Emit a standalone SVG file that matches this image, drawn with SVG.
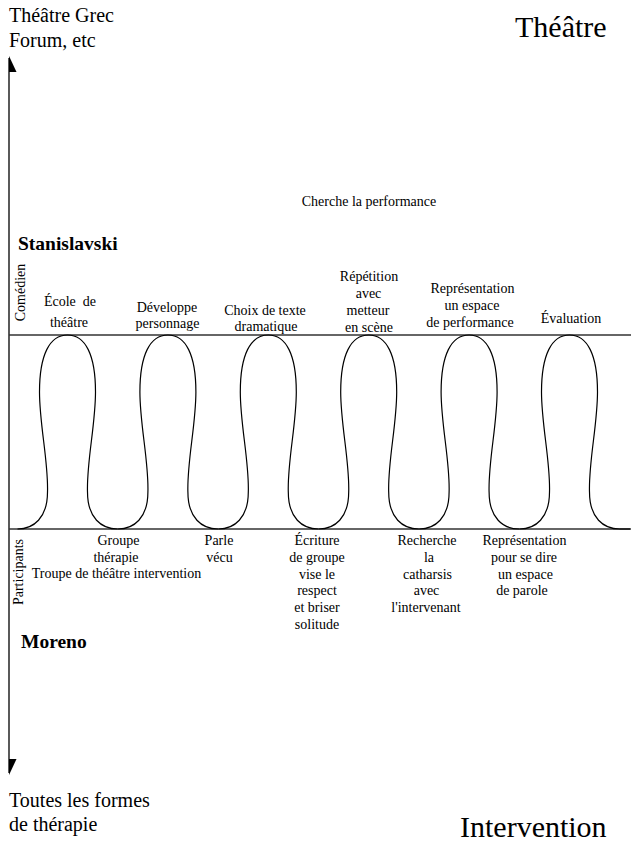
<svg xmlns="http://www.w3.org/2000/svg" xmlns:xlink="http://www.w3.org/1999/xlink" width="631" height="844" viewBox="0 0 631 844">
<style>
text{font-family:"Liberation Serif","Times New Roman",serif;fill:#000}
.lbl{font-size:14px;text-anchor:middle;white-space:pre}
.big{font-size:20px}
.huge{font-size:30px}
.bold{font-size:19.5px;font-weight:bold}
.axis{stroke:#000;stroke-width:1.3;fill:none}
.hline{stroke:#333;stroke-width:1.5;fill:none}
.loop{stroke:#000;stroke-width:1.2;fill:none}
</style>
<defs>
<path id="lobe" d="M-50,529 C-34,529 -20,518 -20,492 C-19,462 -28,425 -28,392 C-28,355 -18,335 0,335 C18,335 28,355 28,392 C28,425 19,462 20,492 C20,518 34,529 50.2,529"/>
</defs>
<g id="corner-texts">
<text class="big" x="9" y="22">Théâtre Grec</text>
<text class="big" x="9" y="47">Forum, etc</text>
<text class="huge" x="515" y="37">Théâtre</text>
<text class="big" x="9" y="807">Toutes les formes</text>
<text class="big" x="9" y="831">de thérapie</text>
<text class="huge" x="460" y="837">Intervention</text>
</g>
<g id="axis">
<line class="axis" x1="9" y1="58" x2="9" y2="773"/>
<polygon points="9,56 16.5,72 9,72" fill="#000"/>
<polygon points="9,759 16.5,759 9,775" fill="#000"/>
<line class="hline" x1="9" y1="335" x2="631" y2="335"/>
<line class="hline" x1="9" y1="529" x2="631" y2="529"/>
</g>
<g id="loops" class="loop">
<use xlink:href="#lobe" href="#lobe" transform="translate(67.5,0)"/>
<use xlink:href="#lobe" href="#lobe" transform="translate(167.9,0)"/>
<use xlink:href="#lobe" href="#lobe" transform="translate(268.3,0)"/>
<use xlink:href="#lobe" href="#lobe" transform="translate(368.7,0)"/>
<use xlink:href="#lobe" href="#lobe" transform="translate(469.1,0)"/>
<use xlink:href="#lobe" href="#lobe" transform="translate(569.5,0)"/>
<line x1="619.5" y1="529" x2="630" y2="529"/>
</g>
<g id="theatre-side">
<text class="lbl" x="369" y="206">Cherche la performance</text>
<text class="bold" x="18" y="250">Stanislavski</text>
<text class="lbl" transform="translate(25,292.5) rotate(-90)">Comédien</text>
</g>
<g id="n-ecole"><text class="lbl" x="70" y="306">École  de</text><text class="lbl" x="69" y="327">théâtre</text></g>
<g id="n-developpe"><text class="lbl" x="167" y="312">Développe</text><text class="lbl" x="167.5" y="328">personnage</text></g>
<g id="n-choix"><text class="lbl" x="265" y="315">Choix de texte</text><text class="lbl" x="266" y="331">dramatique</text></g>
<g id="n-repetition"><text class="lbl" x="369" y="281">Répétition</text><text class="lbl" x="368.5" y="298">avec</text><text class="lbl" x="368" y="315">metteur</text><text class="lbl" x="369" y="332">en scène</text></g>
<g id="n-representation1"><text class="lbl" x="472.5" y="293">Représentation</text><text class="lbl" x="472" y="309.5">un espace</text><text class="lbl" x="470" y="326.5">de performance</text></g>
<g id="n-evaluation"><text class="lbl" x="571" y="323">Évaluation</text></g>
<g id="intervention-side">
<text class="lbl" transform="translate(23,572) rotate(-90)">Participants</text>
<text class="bold" x="21" y="648">Moreno</text>
</g>
<g id="n-groupe"><text class="lbl" x="118.5" y="545">Groupe</text><text class="lbl" x="116" y="562">thérapie</text><text class="lbl" x="116.5" y="578">Troupe de théâtre intervention</text></g>
<g id="n-parle"><text class="lbl" x="219" y="545">Parle</text><text class="lbl" x="219.5" y="562">vécu</text></g>
<g id="n-ecriture"><text class="lbl" x="317" y="545">Écriture</text><text class="lbl" x="317" y="562">de groupe</text><text class="lbl" x="317" y="578.5">vise le</text><text class="lbl" x="317" y="595">respect</text><text class="lbl" x="317" y="612">et briser</text><text class="lbl" x="317" y="628.5">solitude</text></g>
<g id="n-recherche"><text class="lbl" x="427" y="545">Recherche</text><text class="lbl" x="429" y="562">la</text><text class="lbl" x="427.5" y="578.5">catharsis</text><text class="lbl" x="426.5" y="595">avec</text><text class="lbl" x="426" y="612">l'intervenant</text></g>
<g id="n-representation2"><text class="lbl" x="524.5" y="545">Représentation</text><text class="lbl" x="524" y="562">pour se dire</text><text class="lbl" x="525.5" y="578.5">un espace</text><text class="lbl" x="522" y="595">de parole</text></g>
</svg>
